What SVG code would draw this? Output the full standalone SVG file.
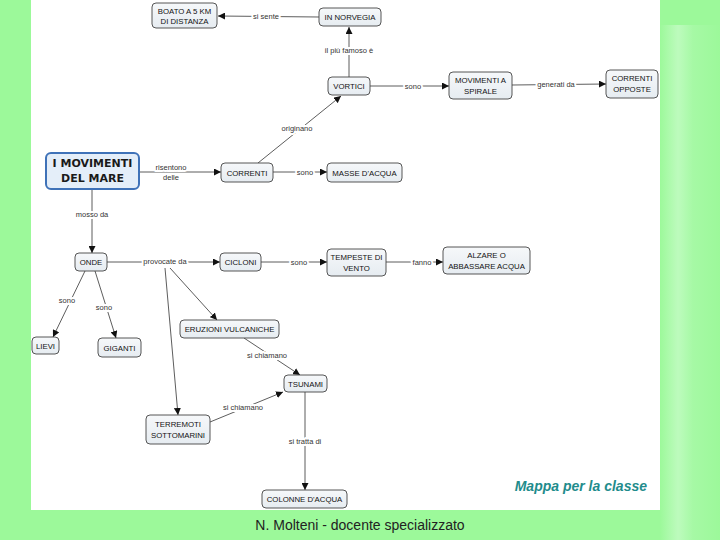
<svg xmlns="http://www.w3.org/2000/svg" width="720" height="540" viewBox="0 0 720 540">
<defs>
<linearGradient id="side" x1="0" y1="0" x2="1" y2="0">
<stop offset="0" stop-color="#9cf99a"/>
<stop offset="0.3" stop-color="#bdfbbd"/>
<stop offset="0.55" stop-color="#a6f9a5"/>
<stop offset="1" stop-color="#9cf99a"/>
</linearGradient>
<linearGradient id="nodefill" x1="0" y1="0" x2="0" y2="1">
<stop offset="0" stop-color="#f6f8fa"/>
<stop offset="1" stop-color="#e6ecf1"/>
</linearGradient>
<marker id="arr" viewBox="0 0 10 10" refX="10" refY="5" markerWidth="7" markerHeight="7" markerUnits="userSpaceOnUse" orient="auto">
<path d="M0,0 L10,5 L0,10 z" fill="#111"/>
</marker>
</defs>
<style>
.node rect{fill:url(#nodefill);stroke:#444;stroke-width:0.9}
.node text{font-family:"Liberation Sans",Arial,sans-serif;font-size:7.8px;fill:#111;text-anchor:middle}
#main rect{fill:#e4eef9;stroke:#3f72b8;stroke-width:2}
#main text{font-family:"DejaVu Sans",sans-serif;font-weight:bold;font-size:11px;fill:#1a1a1a}
.conn line{stroke:#333;stroke-width:0.8;fill:none}
.conn .a{marker-end:url(#arr)}
.lbl{font-family:"Liberation Sans",Arial,sans-serif;font-size:7.5px;fill:#333;text-anchor:middle;stroke:#fff;stroke-width:4;paint-order:stroke;stroke-linejoin:round}
</style>
<rect x="0" y="0" width="720" height="540" fill="#9cf99a"/>
<rect x="660" y="25" width="60" height="515" fill="url(#side)"/>
<rect x="31" y="0" width="629" height="510" fill="#ffffff"/>

<g id="connectors" class="conn">
<line class="a" x1="319" y1="17" x2="218" y2="16"/>
<line class="a" x1="349" y1="77" x2="349" y2="27"/>
<line class="a" x1="370" y1="86" x2="449" y2="86"/>
<line class="a" x1="512" y1="85" x2="606" y2="84"/>
<line class="a" x1="258" y1="163" x2="341" y2="96"/>
<line class="a" x1="139" y1="172" x2="221" y2="172"/>
<line class="a" x1="273" y1="172" x2="327" y2="172"/>
<line class="a" x1="92" y1="189" x2="92" y2="253"/>
<line class="a" x1="107" y1="262" x2="220" y2="262"/>
<line class="a" x1="261" y1="262" x2="327" y2="262"/>
<line class="a" x1="386" y1="262" x2="443" y2="262"/>
<line class="a" x1="85" y1="271" x2="53" y2="337"/>
<line class="a" x1="95" y1="271" x2="116" y2="338"/>
<line class="a" x1="170" y1="268" x2="217" y2="320"/>
<line class="a" x1="165" y1="268" x2="178" y2="415"/>
<line class="a" x1="244" y1="338" x2="300" y2="375"/>
<line class="a" x1="210" y1="422" x2="283" y2="392"/>
<line class="a" x1="305" y1="392" x2="305" y2="490"/>
<text class="lbl" x="266" y="19">si sente</text>
<text class="lbl" x="349" y="53">il più famoso è</text>
<text class="lbl" x="413" y="89">sono</text>
<text class="lbl" x="556" y="87">generati da</text>
<text class="lbl" x="297" y="131">originano</text>
<text class="lbl" x="171" y="170">risentono</text>
<text class="lbl" x="171" y="180">delle</text>
<text class="lbl" x="305" y="175">sono</text>
<text class="lbl" x="92" y="217">mosso da</text>
<text class="lbl" x="165" y="264">provocate da</text>
<text class="lbl" x="299" y="265">sono</text>
<text class="lbl" x="422" y="265">fanno</text>
<text class="lbl" x="67" y="303">sono</text>
<text class="lbl" x="104" y="310">sono</text>
<text class="lbl" x="267" y="358">si chiamano</text>
<text class="lbl" x="243" y="410">si chiamano</text>
<text class="lbl" x="305" y="444">si tratta di</text>
</g>

<g id="n-boato" class="node"><rect x="152" y="3" width="65" height="25" rx="4"/><text x="184.5" y="14">BOATO A 5 KM</text><text x="184.5" y="24">DI DISTANZA</text></g>
<g id="n-norvegia" class="node"><rect x="319" y="8" width="62" height="18" rx="4"/><text x="350" y="20">IN NORVEGIA</text></g>
<g id="n-vortici" class="node"><rect x="328" y="77" width="42" height="18" rx="4"/><text x="349" y="89">VORTICI</text></g>
<g id="n-spirale" class="node"><rect x="449" y="72" width="63" height="27" rx="4"/><text x="480.5" y="83">MOVIMENTI A</text><text x="480.5" y="94">SPIRALE</text></g>
<g id="n-opposte" class="node"><rect x="606" y="70" width="52" height="28" rx="4"/><text x="632" y="81">CORRENTI</text><text x="632" y="92">OPPOSTE</text></g>
<g id="main" class="node"><rect x="46" y="153" width="93" height="36" rx="5"/><text x="92.5" y="167">I MOVIMENTI</text><text x="92.5" y="182">DEL MARE</text></g>
<g id="n-correnti" class="node"><rect x="221" y="163" width="52" height="19" rx="4"/><text x="247" y="175.5">CORRENTI</text></g>
<g id="n-masse" class="node"><rect x="327" y="163" width="75" height="19" rx="4"/><text x="364.5" y="175.5">MASSE D'ACQUA</text></g>
<g id="n-onde" class="node"><rect x="75" y="253" width="32" height="18" rx="4"/><text x="91" y="265">ONDE</text></g>
<g id="n-cicloni" class="node"><rect x="220" y="253" width="41" height="18" rx="4"/><text x="240.5" y="265">CICLONI</text></g>
<g id="n-tempeste" class="node"><rect x="327" y="249" width="59" height="27" rx="4"/><text x="356.5" y="260">TEMPESTE DI</text><text x="356.5" y="271">VENTO</text></g>
<g id="n-alzare" class="node"><rect x="443" y="247" width="87" height="27" rx="4"/><text x="486.5" y="258">ALZARE O</text><text x="486.5" y="269">ABBASSARE ACQUA</text></g>
<g id="n-lievi" class="node"><rect x="32" y="337" width="27" height="17" rx="4"/><text x="45.5" y="348.5">LIEVI</text></g>
<g id="n-giganti" class="node"><rect x="98" y="338" width="43" height="19" rx="4"/><text x="119.5" y="350.5">GIGANTI</text></g>
<g id="n-eruzioni" class="node"><rect x="180" y="320" width="99" height="18" rx="4"/><text x="229.5" y="332">ERUZIONI VULCANICHE</text></g>
<g id="n-tsunami" class="node"><rect x="284" y="375" width="43" height="17" rx="4"/><text x="305.5" y="386.5">TSUNAMI</text></g>
<g id="n-terremoti" class="node"><rect x="146" y="415" width="64" height="29" rx="4"/><text x="178" y="427">TERREMOTI</text><text x="178" y="438">SOTTOMARINI</text></g>
<g id="n-colonne" class="node"><rect x="262" y="490" width="85" height="18" rx="4"/><text x="304.5" y="502">COLONNE D'ACQUA</text></g>

<text x="647" y="491" font-family="Liberation Sans,Arial,sans-serif" font-size="14" font-style="italic" font-weight="bold" fill="#1f8c8c" text-anchor="end">Mappa per la classe</text>
<text x="360" y="530" font-family="Liberation Sans,Arial,sans-serif" font-size="14" fill="#222" text-anchor="middle">N. Molteni - docente specializzato</text>
</svg>
